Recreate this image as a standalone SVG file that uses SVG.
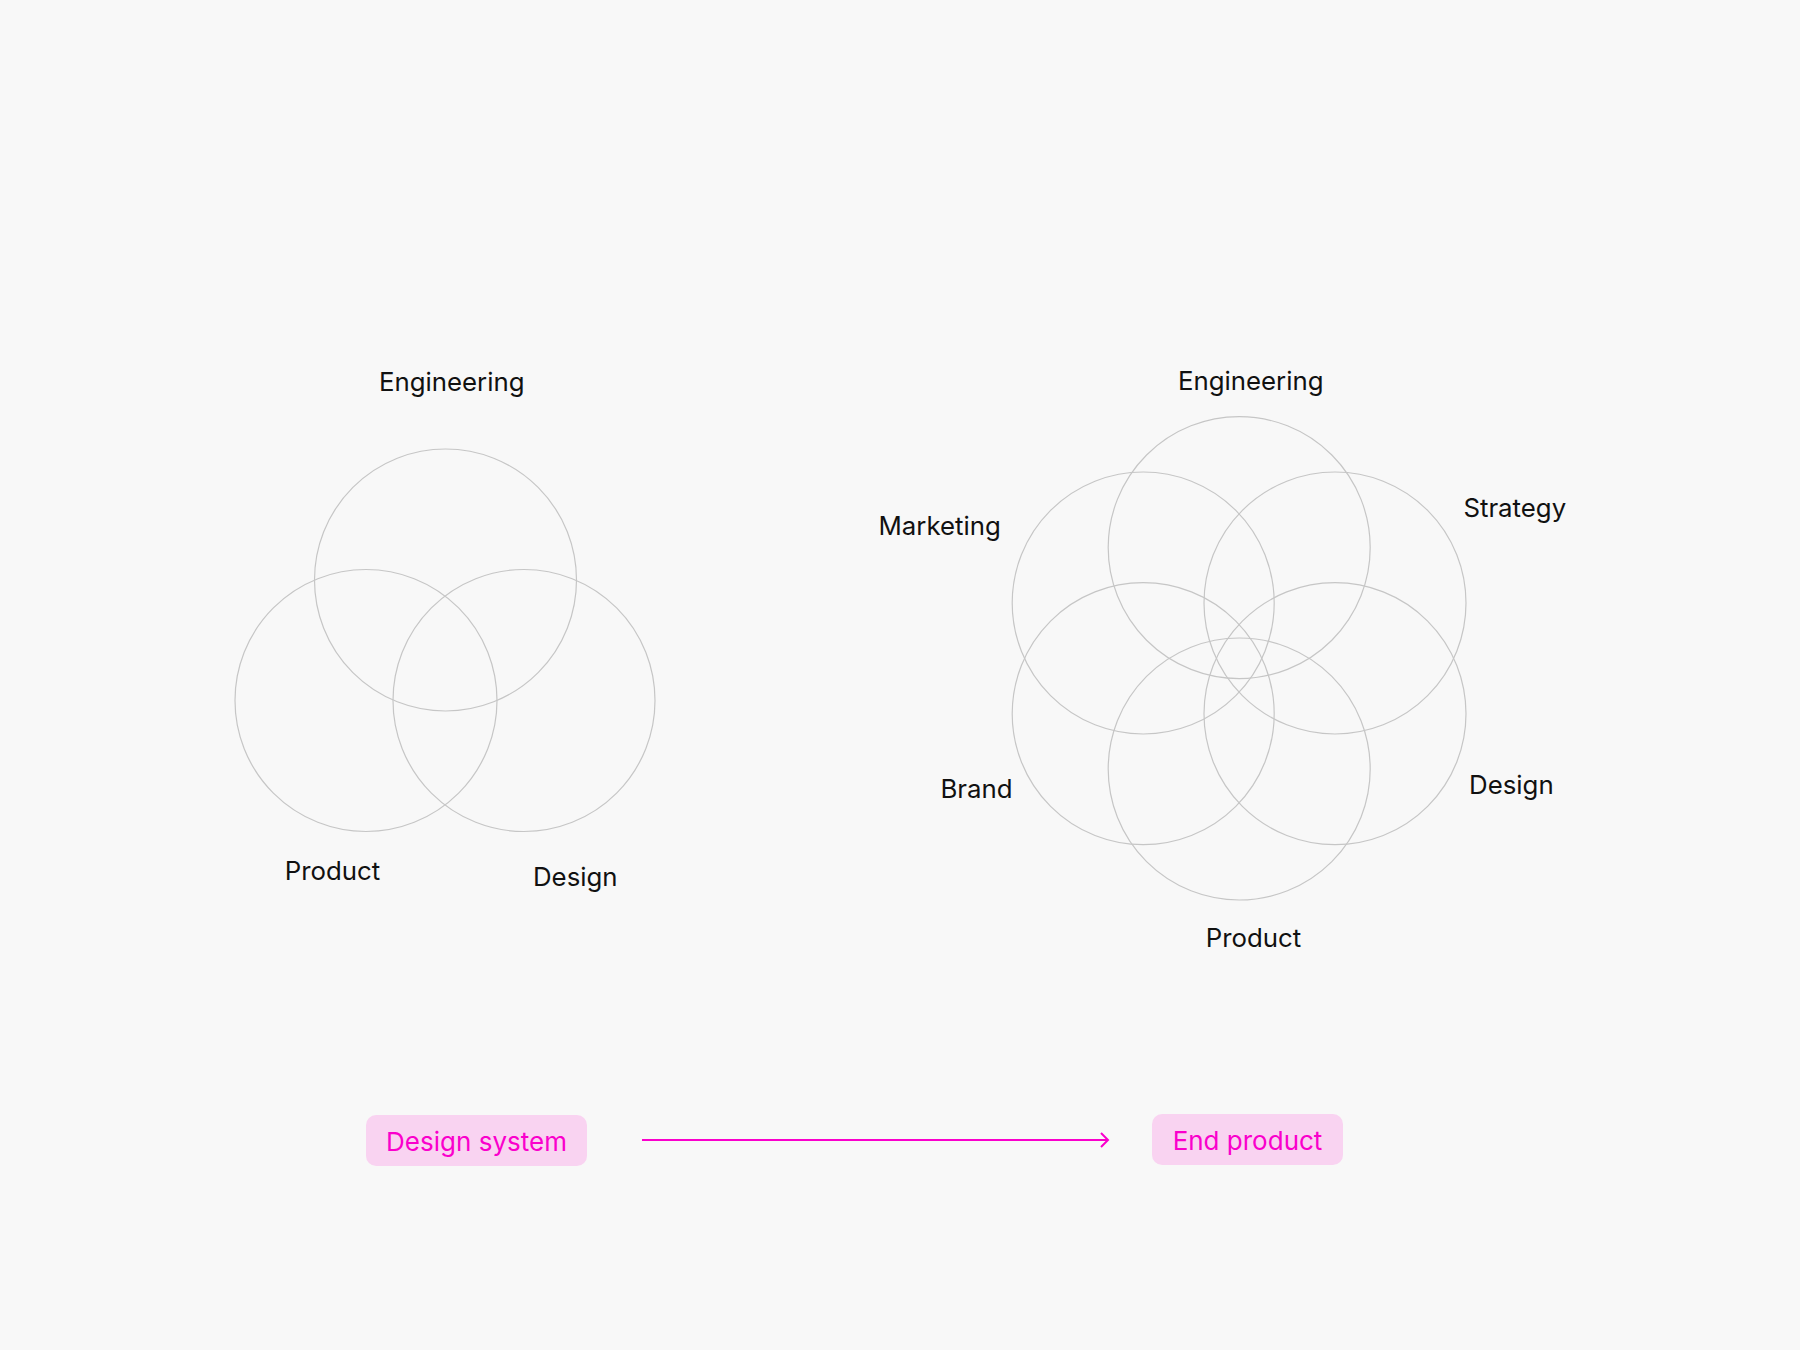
<svg xmlns="http://www.w3.org/2000/svg" width="1800" height="1350" viewBox="0 0 1800 1350">
<defs>
<style>
.c{fill:none;stroke:#c6c6c6;stroke-width:1.2}
.t{font-family:Inter,"Noto Sans","Liberation Sans",sans-serif;font-size:25.8px;fill:#111;text-anchor:middle}
.p{font-family:Inter,"Noto Sans","Liberation Sans",sans-serif;font-size:26px;fill:#fa00cc;text-anchor:middle}
.b{fill:#f9d3f1}
</style>
</defs>
<rect width="1800" height="1350" fill="#f8f8f8"/>
<g id="venn3">
<g id="v3-engineering"><circle class="c" cx="445.5" cy="580" r="131"/><text class="t" x="451.7" y="391">Engineering</text></g>
<g id="v3-product"><circle class="c" cx="366" cy="700.5" r="131"/><text class="t" x="332.5" y="880">Product</text></g>
<g id="v3-design"><circle class="c" cx="524" cy="700.5" r="131"/><text class="t" x="575.3" y="886">Design</text></g>
</g>
<g id="venn6">
<g id="v6-engineering"><circle class="c" cx="1239.2" cy="547.6" r="131"/><text class="t" x="1250.7" y="390">Engineering</text></g>
<g id="v6-strategy"><circle class="c" cx="1335" cy="603" r="131"/><text class="t" x="1514.8" y="517">Strategy</text></g>
<g id="v6-marketing"><circle class="c" cx="1143.2" cy="603" r="131"/><text class="t" x="939.7" y="535">Marketing</text></g>
<g id="v6-brand"><circle class="c" cx="1143.2" cy="713.7" r="131"/><text class="t" x="976.5" y="798">Brand</text></g>
<g id="v6-design"><circle class="c" cx="1335" cy="713.7" r="131"/><text class="t" x="1511.4" y="794">Design</text></g>
<g id="v6-product"><circle class="c" cx="1239.2" cy="769" r="131"/><text class="t" x="1253.5" y="947">Product</text></g>
</g>
<g id="design-system"><rect class="b" x="366" y="1115" width="221" height="51" rx="10"/><text class="p" x="476.5" y="1151">Design system</text></g>
<g id="end-product"><rect class="b" x="1152" y="1114" width="191" height="51" rx="10"/><text class="p" x="1247.5" y="1149.5">End product</text></g>
<g id="connectors" fill="none" stroke="#fa00cc" stroke-width="2">
<line x1="642" y1="1140" x2="1108" y2="1140"/>
<path d="M1101 1133 L1108 1140 L1101 1147" stroke-linejoin="miter"/>
</g>
</svg>
